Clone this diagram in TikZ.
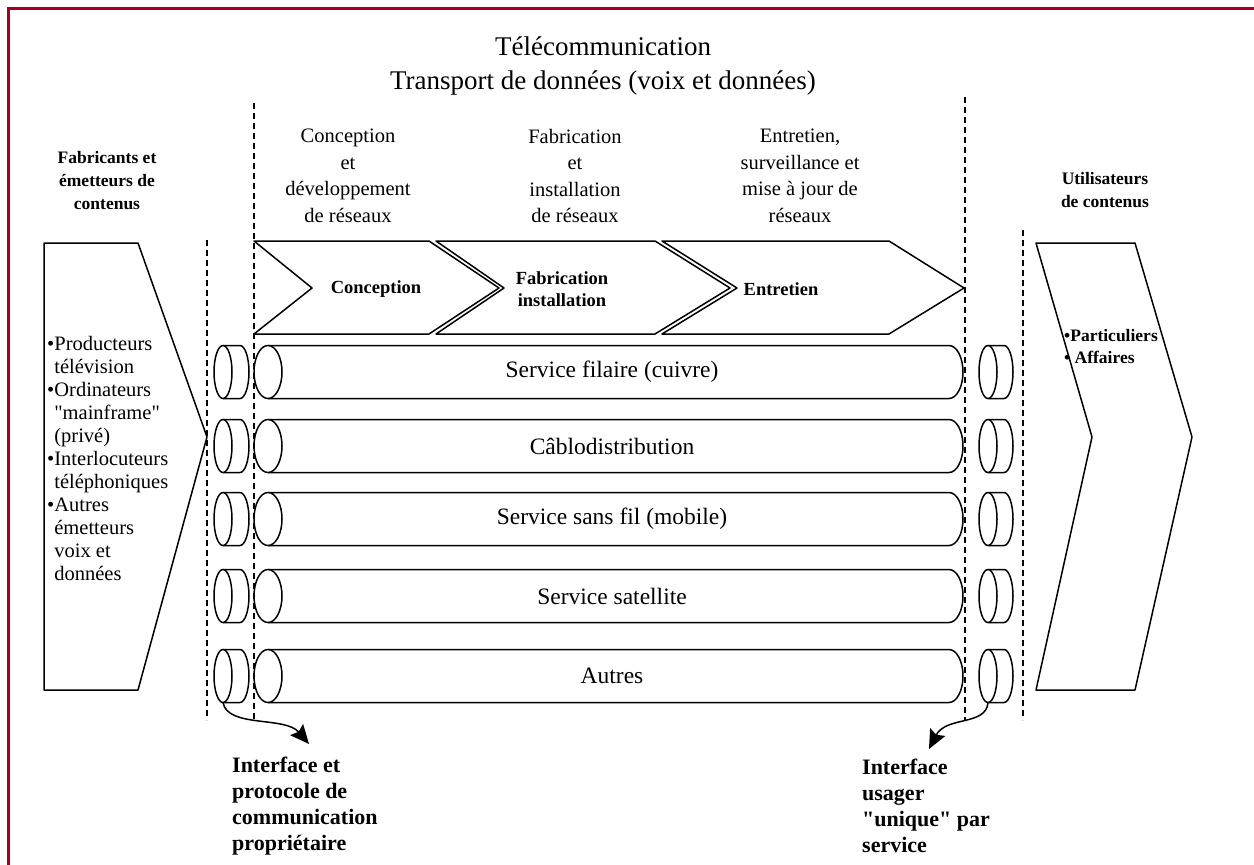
\documentclass[tikz,border=0pt]{standalone}
\usepackage{fontspec}
\setmainfont{Liberation Serif}
\usetikzlibrary{arrows.meta}

\definecolor{cadre}{RGB}{165,0,33}

% cylindre couche : x ellipse gauche, x arc droit, y centre, rayon x
\newcommand{\tuyau}[4]{%
  \draw[trait,fill=white] (#1,#3-26.5) -- (#2,#3-26.5) arc[start angle=-90,end angle=90,x radius=#4,y radius=26.5] -- (#1,#3+26.5) -- cycle;
  \draw[trait,fill=white] (#1,#3) ellipse[x radius=#4,y radius=26.5];}

\begin{document}
\begin{tikzpicture}[x=1pt,y=-1pt,
  trait/.style={line width=1.5pt,line join=round},
  pointille/.style={line width=1.3pt,dash pattern=on 6pt off 4pt},
  service/.style={inner sep=0pt,font=\fontsize{23.5}{28}\selectfont},
  interf/.style={inner sep=0pt,minimum width=35pt,minimum height=53pt},
  titre/.style={align=center,inner sep=0pt,font=\fontsize{27}{34}\selectfont},
  colonne/.style={align=center,inner sep=0pt,font=\fontsize{20.5}{26.5}\selectfont},
  entete/.style={align=center,inner sep=0pt,font=\bfseries\fontsize{17.5}{23}\selectfont},
  liste/.style={align=left,inner sep=0pt,anchor=west,font=\fontsize{20.5}{23}\selectfont},
  etape/.style={align=center,inner sep=0pt,font=\bfseries\fontsize{18.5}{22}\selectfont},
  renvoi/.style={align=left,inner sep=0pt,anchor=west,font=\bfseries\fontsize{22}{26}\selectfont},
  fleche/.style={line width=1.5pt,-{Stealth[length=19pt,width=17pt,inset=3pt]}}
]
\useasboundingbox (0,0) rectangle (1254,865);

% cadre
\draw[cadre,line width=3pt] (8.5,865) -- (8.5,8.5) -- (1254,8.5);

% titres
\node[titre] (titre) at (603,66) {Télécommunication\\Transport de données (voix et données)};
\node[colonne] (conc) at (348,176) {Conception\\et\\développement\\de réseaux};
\node[colonne] (fabr) at (575,176) {Fabrication\\et\\installation\\de réseaux};
\node[colonne] (entr) at (800,176) {Entretien,\\surveillance et\\mise à jour de\\réseaux};
\node[entete] (fabricants) at (107,181) {Fabricants et\\émetteurs de\\contenus};
\node[entete] (utilisateurs) at (1105,190) {Utilisateurs\\de contenus};

% pointilles
\draw[pointille] (207,240) -- (207,720);
\draw[pointille] (254,103) -- (254,720);
\draw[pointille] (965,97) -- (965,720);
\draw[pointille] (1023,230) -- (1023,720);

% chevrons
\draw[trait] (44,243) -- (138,243) -- (207,437) -- (138,690) -- (44,690) -- cycle;
\draw[trait] (1036,243) -- (1135,243) -- (1192,437) -- (1135,690) -- (1036,690) -- (1092,437) -- cycle;
\draw[trait] (254,241) -- (429,241) -- (499,288) -- (429,334) -- (254,334) -- (312,288) -- cycle;
\draw[trait] (436,241) -- (655,241) -- (730,288) -- (655,334) -- (436,334) -- (504,288) -- cycle;
\draw[trait] (662,241) -- (889,241) -- (964,288) -- (889,334) -- (662,334) -- (737,288) -- cycle;
\node[etape] (e1) at (376,289) {Conception};
\node[etape] (e2) at (562,289) {Fabrication\\installation};
\node[etape] (e3) at (781,289) {Entretien};

\node[liste] (emetteurs) at (47,458) {\textbullet Producteurs\\\phantom{\textbullet}télévision\\\textbullet Ordinateurs\\\phantom{\textbullet}\textquotedbl mainframe\textquotedbl\\\phantom{\textbullet}(privé)\\\textbullet Interlocuteurs\\\phantom{\textbullet}téléphoniques\\\textbullet Autres\\\phantom{\textbullet}émetteurs\\\phantom{\textbullet}voix et\\\phantom{\textbullet}données};
\node[liste,font=\bfseries\fontsize{17.5}{22}\selectfont] (usagers) at (1064,347) {\textbullet Particuliers\\\textbullet\ Affaires};

% services
\tuyau{268}{949}{372}{14}
\tuyau{268}{949}{446}{14}
\tuyau{268}{949}{519}{14}
\tuyau{268}{949}{596}{14}
\tuyau{268}{949}{676}{14}
\node[service] (filaire) at (612,372) {Service filaire (cuivre)};
\node[service] (cable) at (612,446) {Câblodistribution};
\node[service] (sansfil) at (612,519) {Service sans fil (mobile)};
\node[service] (satellite) at (612,596) {Service satellite};
\node[service] (autres) at (612,676) {Autres};

% interfaces
\tuyau{223}{240}{372}{9}
\tuyau{223}{240}{446}{9}
\tuyau{223}{240}{519}{9}
\tuyau{223}{240}{596}{9}
\tuyau{223}{240}{676}{9}
\tuyau{988}{1004}{372}{9}
\tuyau{988}{1004}{446}{9}
\tuyau{988}{1004}{519}{9}
\tuyau{988}{1004}{596}{9}
\tuyau{988}{1004}{676}{9}
\node[interf] (g5) at (223,676) {};
\node[interf] (d5) at (988,676) {};

% renvois
\node[renvoi] (proprio) at (232,806) {Interface et\\protocole de\\communication\\propriétaire};
\node[renvoi] (unique) at (862,806) {Interface\\usager\\\textquotedbl unique\textquotedbl\ par\\service};
\coordinate (bout1) at (309,744);
\coordinate (bout2) at (929,749);
\draw[fleche] (g5.south) .. controls (228,728) and (285,716) .. (bout1);
\draw[fleche] (d5.south) .. controls (986,726) and (946,716) .. (bout2);

\end{tikzpicture}
\end{document}
